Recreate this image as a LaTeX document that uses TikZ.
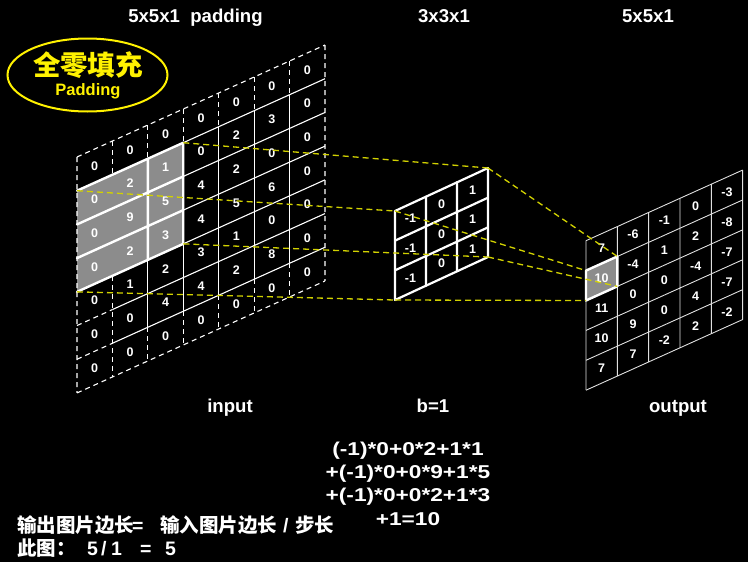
\documentclass[tikz,border=0pt]{standalone}
\usepackage{fontspec}
\setmainfont{Liberation Sans}
\newfontfamily\wsans{Liberation Sans}[FakeStretch=1.22]
\newfontfamily\cjk{Noto Sans CJK SC}
\usetikzlibrary{shapes.geometric}
\definecolor{ydim}{RGB}{210,210,0}
\definecolor{gcell}{RGB}{140,140,140}
\begin{document}
\begin{tikzpicture}[x=1pt,y=-1pt,
  thinw/.style={draw=white,line width=1.1pt},
  thickw/.style={draw=white,line width=2.4pt,line join=round,line cap=round},
  kernw/.style={draw=white,line width=2.2pt,line cap=round},
  outl/.style={draw=white!88!black,line width=0.9pt},
  dashw/.style={draw=white,line width=1.1pt,dash pattern=on 5pt off 4pt},
  ydash/.style={draw=ydim,line width=1.3pt,dash pattern=on 6pt off 4pt},
  num/.style={text=white,font=\bfseries\fontsize{12.5}{14}\selectfont,inner sep=0pt},
  ttl/.style={text=white,font=\bfseries\fontsize{18.6}{20}\selectfont,inner sep=0pt,anchor=base},
  frm/.style={text=white,font=\wsans\bfseries\fontsize{18.6}{23.3}\selectfont,inner sep=0pt,anchor=base},
  note/.style={text=white,font=\bfseries\fontsize{19.5}{22}\selectfont,inner sep=0pt,anchor=base west},
  graycell/.style={fill=gcell}]
\fill[black] (0,0) rectangle (748,562);
\useasboundingbox (0,0) rectangle (748,562);

% ---------- input 7x7 (padded) ----------
\begin{scope}[shift={(77,157)},x={(35.43pt,16pt)},y={(0pt,-33.71pt)}]
 \fill[graycell] (0,1)--(3,1)--(3,4)--(0,4)--cycle;
 \draw[dashw] (0,0)--(7,0) (0,7)--(7,7) (0,0)--(0,7) (7,0)--(7,7);
 \draw[dashw] (1,0)--(1,1) (1,4)--(1,7);
 \foreach \i in {2,...,6} {\draw[dashw] (\i,0)--(\i,1) (\i,6)--(\i,7);}
 \draw[thinw] (2,4)--(2,6) (3,4)--(3,6);
 \foreach \i in {4,5,6} {\draw[thinw] (\i,1)--(\i,6);}
 \foreach \j in {1,...,4} {\draw[thinw] (3,\j)--(7,\j);}
 \foreach \j in {5,6} {\draw[dashw] (0,\j)--(1,\j); \draw[thinw] (1,\j)--(7,\j);}
 \draw[thickw] (0,2)--(3,2) (0,3)--(3,3) (2,1)--(2,4);
 \draw[thickw] (0,1)--(3,1)--(3,4)--(0,4);
 \foreach \cc/\vals in {0/{0,0,0,0,0,0,0},1/{0,2,9,2,1,0,0},2/{0,1,5,3,2,4,0},
   3/{0,0,4,4,3,4,0},4/{0,2,2,5,1,2,0},5/{0,3,0,6,0,8,0},6/{0,0,0,0,0,0,0}}
   {\foreach \v [count=\rr from 0] in \vals {\node[num] (in-\cc-\rr) at (\cc+0.5,\rr+0.5) {\v};}}
 \coordinate (gTL) at (0,1);
 \coordinate (gTR) at (3,1);
 \coordinate (gBL) at (0,4);
 \coordinate (gBR) at (3,4);
\end{scope}

% ---------- kernel 3x3 ----------
\begin{scope}[shift={(395,211)},x={(31pt,14.33pt)},y={(0pt,-29.67pt)}]
 \foreach \k in {0,...,3} {\draw[kernw] (\k,0)--(\k,3) (0,\k)--(3,\k);}
 \foreach \cc/\v in {0/-1,1/0,2/1}
   {\foreach \rr in {0,1,2} {\node[num] (k-\cc-\rr) at (\cc+0.5,\rr+0.5) {\v};}}
 \coordinate (kTL) at (0,0);
 \coordinate (kTR) at (3,0);
 \coordinate (kBL) at (0,3);
 \coordinate (kBR) at (3,3);
\end{scope}

% ---------- output 5x5 ----------
\begin{scope}[shift={(586,240.7)},x={(31.33pt,14.13pt)},y={(0pt,-29.9pt)}]
 \fill[graycell] (0,1)--(1,1)--(1,2)--(0,2)--cycle;
 \foreach \k in {0,...,5} {\draw[outl] (\k,0)--(\k,5) (0,\k)--(5,\k);}
 \draw[thickw] (0,1)--(1,1)--(1,2)--(0,2)--cycle;
 \foreach \cc/\vals in {0/{7,10,11,10,7},1/{-6,-4,0,9,7},2/{-1,1,0,0,-2},
   3/{0,2,-4,4,2},4/{-3,-8,-7,-7,-2}}
   {\foreach \v [count=\rr from 0] in \vals {\node[num] (out-\cc-\rr) at (\cc+0.5,\rr+0.5) {\v};}}
 \coordinate (oTL) at (0,1);
 \coordinate (oTR) at (1,1);
 \coordinate (oBL) at (0,2);
 \coordinate (oBR) at (1,2);
\end{scope}

% ---------- projection lines ----------
\draw[ydash] (gTR) -- (kTR);
\draw[ydash] (gTL) -- (kTL);
\draw[ydash] (gBR) -- (kBR);
\draw[ydash] (gBL) -- (kBL);
\draw[ydash] (kTR) -- (oTR);
\draw[ydash] (kTL) -- (oTL);
\draw[ydash] (kBR) -- (oBR);
\draw[ydash] (kBL) -- (oBL);

% ---------- ellipse label ----------
\node[ellipse,draw=yellow,line width=2pt,fill=black,minimum width=160pt,minimum height=73pt,inner sep=0pt] (ell) at (87.5,75) {};
\node[text=yellow,font=\cjk\bfseries\fontsize{27.5}{30}\selectfont,inner sep=0pt] (qlt) at (88,65) {全零填充};
\node[text=yellow,font=\bfseries\fontsize{16.5}{18}\selectfont,inner sep=0pt,anchor=base] (pad) at (88,95) {Padding};

% ---------- titles ----------
\node[ttl] (t-in) at (195.5,23) {5x5x1\ \ padding};
\node[ttl] (t-k) at (444,23) {3x3x1};
\node[ttl] (t-out) at (648,23) {5x5x1};
\node[ttl] (l-in) at (230,412) {input};
\node[ttl] (l-b) at (433,412) {b=1};
\node[ttl] (l-out) at (678,412) {output};

% ---------- formula ----------
\node[frm] (f1) at (408,455) {(-1)*0+0*2+1*1};
\node[frm] (f2) at (408,478.3) {+(-1)*0+0*9+1*5};
\node[frm] (f3) at (408,501.7) {+(-1)*0+0*2+1*3};
\node[frm] (f4) at (408,525) {+1=10};

% ---------- bottom notes ----------
\node[note] (n1) at (17,532) {\makebox[115pt][l]{\cjk\bfseries 输出图片边长}\makebox[28pt][l]{=}\makebox[123pt][l]{\cjk\bfseries 输入图片边长}\makebox[12pt][l]{/}{\cjk\bfseries 步长}};
\node[note] (n2) at (17,555) {\makebox[70pt][l]{\cjk\bfseries 此图：}\makebox[14pt][l]{5}\makebox[10pt][l]{/}\makebox[29pt][l]{1}\makebox[25pt][l]{=}5};
\end{tikzpicture}
\end{document}
